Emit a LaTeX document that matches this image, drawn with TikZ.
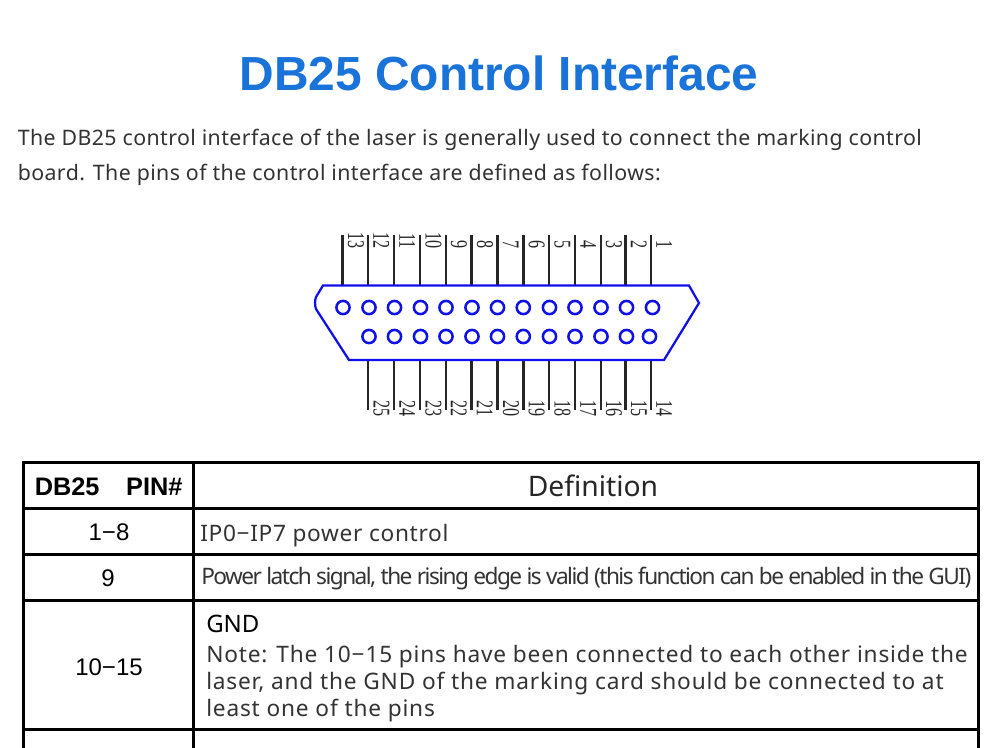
\documentclass[tikz,border=0pt]{standalone}
\usepackage{fontspec}
\usepackage{graphicx}
\setmainfont{Noto Sans}
\newfontfamily\tsans{Liberation Sans}
\newfontfamily\tserif{Liberation Serif}
\definecolor{titleblue}{HTML}{1A73D9}
\definecolor{bodygrey}{HTML}{333333}
\definecolor{shellblue}{HTML}{1010E8}
\newcommand{\fs}[1]{\fontsize{#1}{#1}\selectfont}
\newcommand{\narrowdigits}[1]{\scalebox{0.67}[1]{#1}}
\tikzset{
  x=0.75pt,y=-0.75pt,
  rule/.style={line width=2.25pt,black,line cap=rect},
  shell/.style={draw=shellblue,line width=1.7pt,line join=miter},
  hole/.style={draw=shellblue,line width=1.9pt},
  lead/.style={line width=1.8pt,draw=black!85},
  pinlab/.style={rotate=-90,anchor=south east,inner sep=0pt,font=\tserif\fs{18},text=black!85},
  txt/.style={anchor=base west,inner sep=0pt,text=bodygrey},
  wide/.style={txt,font=\addfontfeature{LetterSpace=1.9}\fs{16}},
  cell/.style={txt,font=\addfontfeature{LetterSpace=3.6}\fs{17}},
  ctr/.style={anchor=base,inner sep=0pt,text=black,font=\tsans\fs{18}},
}
\begin{document}
\begin{tikzpicture}
\useasboundingbox (0,0) rectangle (1000,747);
\fill[white] (0,0) rectangle (1000,747);
\node[anchor=base,inner sep=0pt,text=titleblue,font=\tsans\bfseries\fs{35.9}] (title) at (499,90) {DB25 Control Interface};
\node[wide] (p1) at (17.5,145) {The DB25 control interface of the laser is generally used to connect the marking control};
\node[wide] (p2) at (17.5,180) {board. The pins of the control interface are defined as follows:};
% connector
\foreach \x/\n in {651/1,625.5/2,600.7/3,575/4,549/5,523.3/6,497.5/7,471.5/8,445.7/9,420/10,394/11,368/12,342.5/13}{
  \draw[lead] (\x,235) -- (\x,285);
  \node[pinlab] (t\n) at (\x+5,249) {\narrowdigits{\n}};
}
\foreach \x/\n in {651/14,625.5/15,600.7/16,575/17,549/18,523.3/19,497.5/20,471.5/21,445.7/22,420/23,394/24,368/25}{
  \draw[lead] (\x,360) -- (\x,410);
  \node[pinlab] (b\n) at (\x+5,417) {\narrowdigits{\n}};
}
\draw[shell] (323,285.5) -- (689,285.5) -- (699,303) -- (664,360) -- (349,360) -- (316,309) .. controls (314.5,305) and (315,300) .. (316,297) -- cycle;
\foreach \x in {343,369,394.5,420.5,446,472,497.5,523.3,549.5,575,601,626.5,652.5}
  \draw[hole] (\x,307.5) circle (6.6);
\foreach \x in {369,394.5,420.5,446,472,497.5,523.3,549.5,575,601,626.5,649.5}
  \draw[hole] (\x,336.5) circle (6.6);
% table
\draw[rule] (23,462) -- (978,462);
\draw[rule] (23,508) -- (978,508);
\draw[rule] (23,554.5) -- (978,554.5);
\draw[rule] (23,600.5) -- (978,600.5);
\draw[rule] (23,729) -- (978,729);
\draw[rule] (23,462) -- (23,750);
\draw[rule] (193,462) -- (193,750);
\draw[rule] (978,462) -- (978,750);
\node[anchor=base west,inner sep=0pt,font=\tsans\bfseries\fs{19}] (h1) at (34.5,495) {DB25\hspace{20pt}PIN\#};
\node[anchor=base,inner sep=0pt,text=black!85,font=\fs{21.2}] (h2) at (593,496) {Definition};
\node[ctr] (c1) at (109,540.7) {1−8};
\node[ctr] (c2) at (108,586.7) {9};
\node[ctr] (c3) at (109,675) {10−15};
\node[txt,font=\addfontfeature{LetterSpace=3}\fs{17}] (d1) at (200,541) {IP0−IP7 power control};
\node[txt,font=\addfontfeature{LetterSpace=-6.8}\fs{17}] (d2) at (201,584) {Power latch signal, the rising edge is valid (this function can be enabled in the GUI)};
\node[txt,text=black,font=\fs{18}] (d3) at (206,632.5) {GND};
\node[cell] (d4) at (206,662.5) {Note: The 10−15 pins have been connected to each other inside the};
\node[cell] (d5) at (206,689.5) {laser, and the GND of the marking card should be connected to at};
\node[cell] (d6) at (206,716.5) {least one of the pins};
\end{tikzpicture}
\end{document}
